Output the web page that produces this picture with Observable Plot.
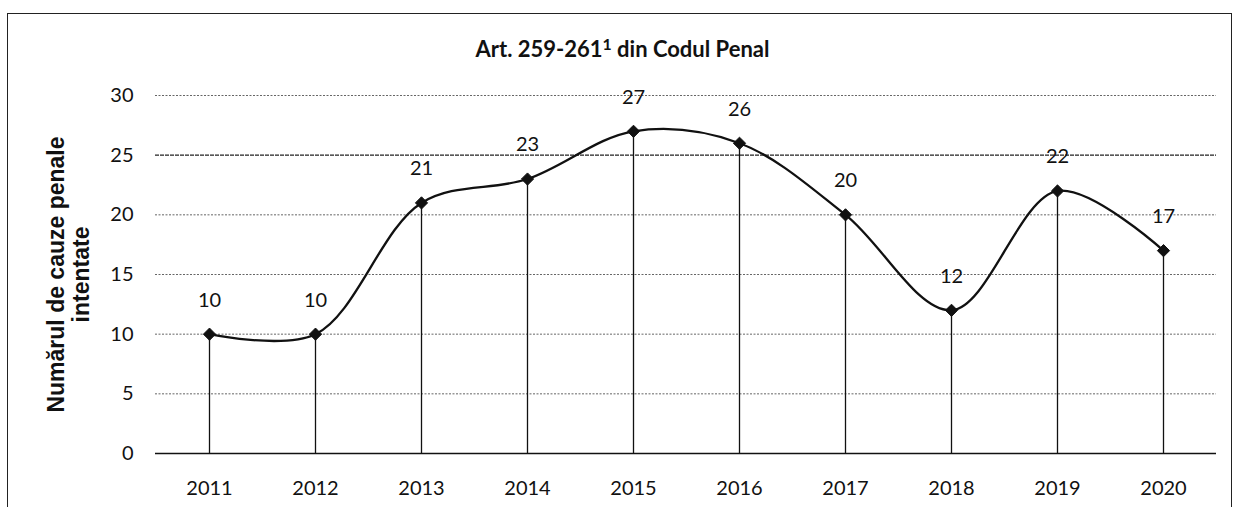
<!DOCTYPE html>
<html>
<head>
<meta charset="utf-8">
<script src="https://cdn.jsdelivr.net/npm/d3@7"></script>
<script src="https://cdn.jsdelivr.net/npm/@observablehq/plot@0.6"></script>
<style>
  html, body { margin: 0; padding: 0; background: #fff; width: 1235px; height: 507px; overflow: hidden; }
  #frame { position: absolute; left: 7px; top: 13px; width: 1225px; height: 520px; border: 1.5px solid #222; box-sizing: border-box; }
  #title { position: absolute; left: 0; top: 35px; width: 1245px; text-align: center; font-family: Lato, "Open Sans", sans-serif; font-weight: bold; font-size: 22px; line-height: 28px; color: #111; }
  #title sup { font-size: 0.72em; line-height: 0; vertical-align: 0.45em; }
  #chart { position: absolute; left: 0; top: 75px; }
</style>
</head>
<body>
<div id="frame"></div>
<div id="title">Art. 259-261<sup>1</sup> din Codul Penal</div>
<div id="chart"></div>
<script>
const years = ["2011","2012","2013","2014","2015","2016","2017","2018","2019","2020"];
const cases = [10, 10, 21, 23, 27, 26, 20, 12, 22, 17];
const yTicks = [0, 5, 10, 15, 20, 25, 30];
const gridLight = [5, 10, 15, 20, 30];
const gridDark = [25];
const yLabel = "Numărul de cauze penale\nintentate";

const data = years.map((y, i) => ({year: y, value: cases[i]}));

const chart = Plot.plot({
  width: 1235,
  height: 432,
  marginLeft: 155,
  marginRight: 19,
  marginTop: 20,
  marginBottom: 54,
  style: {fontFamily: "Lato, 'Open Sans', sans-serif", fontSize: "20px", color: "#111", background: "transparent", overflow: "visible"},
  x: {type: "point", domain: years, padding: 0.5, label: null},
  y: {domain: [0, 30], label: null},
  marks: [
    Plot.ruleY(gridLight, {stroke: "#666", strokeWidth: 1, strokeDasharray: "2,1.5"}),
    Plot.ruleY(gridDark, {stroke: "#222", strokeWidth: 1.2, strokeDasharray: "4,1"}),
    Plot.axisY({ticks: yTicks, tickSize: 0, tickPadding: 22, label: null, fontSize: 20}),
    Plot.axisX({tickSize: 0, tickPadding: 27, label: null, fontSize: 20}),
    Plot.ruleX([0], {frameAnchor: "left", y1: 0, y2: 30, stroke: "#111", strokeWidth: 1.5}),
    Plot.ruleY([0], {stroke: "#111", strokeWidth: 1.5}),
    Plot.ruleX(data, {x: "year", y1: 0, y2: "value", stroke: "#111", strokeWidth: 1.3}),
    Plot.line(data, {x: "year", y: "value", curve: "catmull-rom", stroke: "#111", strokeWidth: 2.3}),
    Plot.dot(data, {x: "year", y: "value", symbol: "diamond2", r: 5.5, fill: "#111", stroke: "#111", strokeWidth: 1}),
    Plot.text(data, {x: "year", y: "value", text: d => String(d.value), dy: -34, fontSize: 20, fill: "#111"}),
    Plot.text([yLabel], {frameAnchor: "left", text: d => d, rotate: -90, textAnchor: "middle", lineAnchor: "middle", dx: -87, fontSize: 23, fontWeight: "bold", fontFamily: "'Liberation Sans', Arial, sans-serif", lineHeight: 1.08, fill: "#111"})
  ]
});
document.getElementById("chart").appendChild(chart);
</script>
</body>
</html>
